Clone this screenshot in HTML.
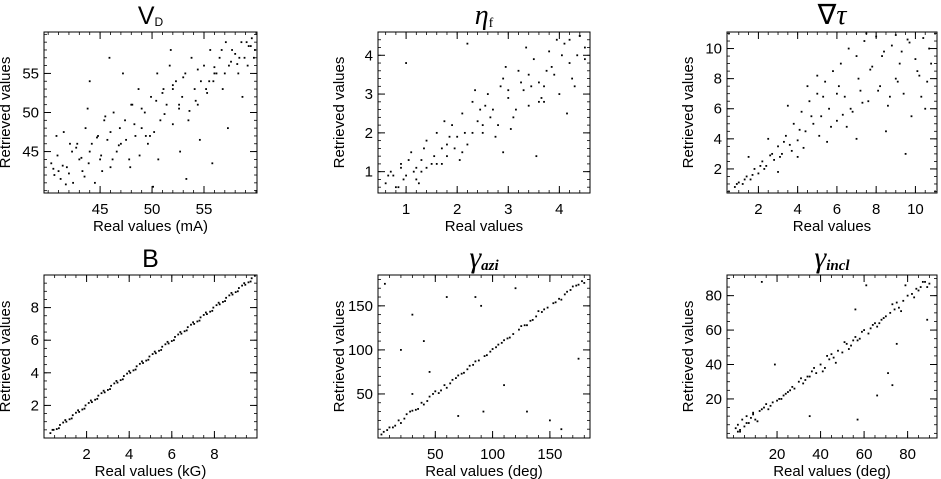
<!DOCTYPE html>
<html><head><meta charset="utf-8"><style>
html,body{margin:0;padding:0;background:#fff}
svg{display:block;font-family:"Liberation Sans",sans-serif}
</style></head><body>
<svg id="fig" width="941" height="479" viewBox="0 0 941 479"></svg>
<script>
// ---- data ----
const vdX=[40.3,40.6,40.9,41.2,41.5,41.8,42.1,42.4,42.7,43,43.3,43.6,43.9,44.2,44.5,44.8,45.1,45.4,45.7,46,46.3,46.6,46.9,47.2,47.5,47.8,48.1,48.4,48.7,49,49.3,49.6,49.9,50.2,50.5,50.8,51.1,51.4,51.7,52,52.3,52.6,52.9,53.2,53.5,53.8,54.1,54.4,54.7,55,55.3,55.6,55.9,56.2,56.5,56.8,57.1,57.4,57.7,58,58.3,58.6,58.9,59.2,59.5,59.8,41,42.3,43.8,45.5,46.2,47.9,49.4,50.6,51.8,52.7,53.3,54.6,55.8,57.3,58.7,59.6,44,48,52,56,40.8,45.9,50.1,54.2,40.5,41.4,42,42.8,43.2,44,44.7,45.2,46,46.8,47.4,48.3,49,49.8,50.4,51.2,52,52.6,53.6,54.4,55.2,56,56.7,57.6,58.4,59.1,59.9,41.7,43.5,45,47,48.8,51,53,55.5,57,58.2,59.3];
const vdY=[43.5,42,44.5,41.5,47.5,43,46,41,45.5,44,42.5,48,43.5,46,41,47,44.5,49,46.5,43,50,45,48,55,46.5,44,51,47,53,48,50,46,52,47.5,55,49,53,51,56,48.5,54,50.5,52,55,49,57,53,51,54,56,52.5,58,54,55,57,53,59,56,58,57.5,55,59,57,56,58.5,57,42.5,45,50.5,49.5,44,43,47,44,58,45,41.5,46.5,43.5,48,52,59.5,54,51,53,55,47,57,40.5,51.5,42.8,43.2,42.2,46,44.2,45,46.8,42.5,47.5,45.8,49,48.5,50.5,47,51.5,49.8,53.5,51,50.2,55.5,53,55.8,58,56.5,57,59,58,40.8,41.8,44,46,44.5,52.5,54.5,54,55,56.2,58.5];
const etX=[0.6,0.7,0.8,0.9,1.0,1.1,1.2,1.3,1.4,1.5,1.6,1.7,1.8,1.9,2.0,2.1,2.2,2.3,2.4,2.5,2.6,2.7,2.8,2.9,3.0,3.1,3.2,3.3,3.4,3.5,3.6,3.7,3.8,3.9,4.0,4.1,4.2,4.3,4.4,4.5,0.75,0.95,1.15,1.35,1.55,1.75,1.95,2.15,2.35,2.55,2.75,2.95,3.15,3.35,3.55,3.75,3.95,4.15,4.35,1.0,1.6,2.2,2.9,3.6,4.4,1.25,2.05,3.45,0.65,0.85,1.05,1.2,1.4,1.7,1.85,2.1,2.3,2.45,2.65,2.85,3.05,3.25,3.4,3.65,3.85,4.05,4.25,4.5,0.9,1.3,1.8,2.5,3.0,3.7,4.2];
const etY=[0.7,1.0,0.6,1.2,0.9,1.5,1.1,1.3,1.8,1.2,2.0,1.6,1.4,2.2,1.9,2.5,1.7,2.8,2.3,2.0,3.0,2.6,2.2,3.4,2.9,2.4,3.6,3.1,2.7,3.9,3.3,2.8,4.1,3.5,3.0,4.3,3.8,3.2,4.5,3.9,0.9,0.8,1.0,1.6,1.4,2.3,1.6,2.0,3.1,2.7,1.9,3.7,2.6,4.2,1.4,3.6,4.4,2.5,4.0,3.8,1.2,4.3,1.5,2.8,4.5,0.7,1.3,3.2,0.9,0.6,1.3,0.8,1.1,1.2,1.9,1.5,2.0,2.6,2.4,3.2,2.1,3.3,3.5,2.9,3.7,4.0,3.4,4.2,1.1,1.0,1.7,2.2,3.1,3.2,4.4];
const gtX=[0.8,1.0,1.2,1.4,1.6,1.8,2.0,2.2,2.4,2.6,2.8,3.0,3.2,3.4,3.6,3.8,4.0,4.2,4.4,4.6,4.8,5.0,5.2,5.4,5.6,5.8,6.0,6.2,6.4,6.6,6.8,7.0,7.2,7.4,7.6,7.8,8.0,8.2,8.4,8.6,8.8,9.0,9.2,9.4,9.6,9.8,10.0,10.2,10.4,10.6,10.8,1.5,2.5,3.5,4.5,5.5,6.5,7.5,8.5,9.5,10.5,3.0,5.0,7.0,9.0,4.0,6.0,0.9,1.3,1.7,2.1,2.3,2.7,3.1,3.3,3.7,4.1,4.3,4.7,5.1,5.3,5.7,6.1,6.3,6.7,7.1,7.3,7.7,8.1,8.3,8.7,9.1,9.3,9.7,10.1,10.3,10.7];
const gtY=[0.8,1.1,1.0,1.5,1.3,2.0,1.7,2.5,2.2,2.9,2.6,3.5,3.0,4.2,3.6,5.0,3.9,5.8,4.5,6.5,5.0,7.0,5.5,7.8,6.0,8.5,5.2,9.0,6.8,10.0,5.8,9.5,7.2,10.5,6.5,8.8,10.8,7.5,9.8,6.2,10.2,8.0,9.0,7.0,10.6,5.5,9.3,8.2,10.7,7.8,9.0,2.8,4.0,6.2,7.5,3.8,4.8,11.0,4.5,3.0,6.0,1.8,8.2,4.0,10.9,2.8,7.0,1.0,1.3,1.6,2.2,2.0,3.0,2.8,3.8,3.2,4.6,3.4,5.5,4.2,6.8,4.8,7.5,5.6,6.0,8.0,6.4,8.6,7.2,9.5,6.8,7.8,9.8,10.4,8.5,6.8,10.0];
const bX=[0.3,0.6,0.9,1.2,1.5,1.8,2.1,2.4,2.7,3.0,3.3,3.6,3.9,4.2,4.5,4.8,5.1,5.4,5.7,6.0,6.3,6.6,6.9,7.2,7.5,7.8,8.1,8.4,8.7,9.0,9.3,9.6,9.9,0.45,0.75,1.05,1.35,1.65,1.95,2.25,2.55,2.85,3.15,3.45,3.75,4.05,4.35,4.65,4.95,5.25,5.55,5.85,6.15,6.45,6.75,7.05,7.35,7.65,7.95,8.25,8.55,8.85,9.15,9.45,9.75,0.4,0.7,1.0,1.3,1.6,1.9,2.2,2.5,2.8,3.1,3.4,3.7,4.0,4.3,4.6,4.9,5.2,5.5,5.8,6.1,6.4,6.7,7.0,7.3,7.6,7.9,8.2,8.5,8.8,9.1,9.4,9.7];
const bY=[0.3,0.55,0.95,1.15,1.55,1.75,2.15,2.35,2.75,2.95,3.35,3.55,3.95,4.15,4.55,4.75,5.15,5.35,5.75,5.95,6.35,6.55,6.95,7.15,7.55,7.75,8.15,8.35,8.75,8.95,9.35,9.55,9.95,0.5,0.8,1.0,1.4,1.6,2.0,2.2,2.6,2.8,3.2,3.4,3.8,4.0,4.4,4.6,5.0,5.2,5.6,5.8,6.2,6.4,6.8,7.0,7.4,7.6,8.0,8.2,8.6,8.8,9.2,9.4,9.8,0.5,0.6,1.1,1.2,1.7,1.8,2.3,2.4,2.9,3.0,3.5,3.6,4.1,4.2,4.7,4.8,5.3,5.4,5.9,6.0,6.5,6.6,7.1,7.2,7.7,7.8,8.3,8.4,8.9,9.0,9.5,9.6];
const azX=[3,8,13,18,23,28,33,38,43,48,53,58,63,68,73,78,83,88,93,98,103,108,113,118,123,128,133,138,143,148,153,158,163,168,173,178,5,15,25,35,45,55,65,75,85,95,105,115,125,135,145,155,165,175,6,20,30,60,90,92,110,160,120,150,40,70,175,10,20,30,40,50,60,70,80,100,110,130,140,160,170,180,45,85,130,30];
const azY=[4,9,12,20,22,30,32,40,42,50,51,60,62,68,73,78,83,88,93,98,103,108,113,118,123,128,133,138,143,148,153,158,163,168,173,178,7,14,27,33,47,54,66,74,87,94,106,114,127,134,146,154,166,174,175,100,140,160,150,30,60,10,170,20,110,25,90,12,17,31,38,53,57,71,82,101,111,128,144,157,172,176,75,160,30,50];
const inX=[1,2,3,4,5,6,7,8,9,10,12,14,16,18,20,22,24,26,28,30,32,34,36,38,40,42,44,46,48,50,52,54,56,58,60,62,64,66,68,70,72,74,76,78,80,82,84,86,88,90,3,11,15,25,35,45,55,65,75,85,13,19,56,61,66,71,73,75,35,57,89,2,6,9,13,17,21,23,27,31,33,37,41,43,47,51,53,57,59,63,67,69,73,77,79,83,87,89];
const inY=[3,5,2,8,4,10,6,9,12,8,13,15,14,18,19,20,23,25,26,30,29,33,36,35,40,38,43,44,48,47,52,51,56,55,60,58,63,62,66,68,70,72,73,77,80,81,84,85,88,87,1,7,17,24,33,46,54,64,76,83,88,40,72,86,22,35,28,52,10,8,66,1,6,11,14,16,20,22,27,32,31,38,36,45,41,53,49,54,59,61,64,67,75,71,86,79,88,85];

// ---- layout ----
const panels=[
 {x:vdX,y:vdY,L:44,R:257,T:32,B:193,xmin:39.6,xmax:60.1,ymin:39.7,ymax:60.3,xt:[45,50,55],yt:[45,50,55],xmin2:1,ymin2:1,title:'vd',xl:'Real values (mA)'},
 {x:etX,y:etY,L:378,R:590,T:32,B:193,xmin:0.45,xmax:4.6,ymin:0.45,ymax:4.6,xt:[1,2,3,4],yt:[1,2,3,4],xmin2:0.2,ymin2:0.2,title:'eta',xl:'Real values'},
 {x:gtX,y:gtY,L:727,R:937,T:32,B:193,xmin:0.4,xmax:11.1,ymin:0.4,ymax:11.1,xt:[2,4,6,8,10],yt:[2,4,6,8,10],xmin2:0.5,ymin2:0.5,title:'grad',xl:'Real values'},
 {x:bX,y:bY,L:44,R:257,T:275,B:438,xmin:0,xmax:10,ymin:0,ymax:10,xt:[2,4,6,8],yt:[2,4,6,8],xmin2:0.5,ymin2:0.5,title:'B',xl:'Real values (kG)'},
 {x:azX,y:azY,L:378,R:590,T:275,B:438,xmin:0,xmax:185,ymin:0,ymax:185,xt:[50,100,150],yt:[50,100,150],xmin2:10,ymin2:10,title:'azi',xl:'Real values (deg)'},
 {x:inX,y:inY,L:727,R:937,T:275,B:438,xmin:-3,xmax:93.5,ymin:-2.7,ymax:92,xt:[20,40,60,80],yt:[20,40,60,80],xmin2:5,ymin2:5,title:'incl',xl:'Real values (deg)'}
];
const NS='http://www.w3.org/2000/svg';
const svg=document.getElementById('fig');
function mk(tag,attrs,parent){const e=document.createElementNS(NS,tag);for(const k in attrs)e.setAttribute(k,attrs[k]);(parent||svg).appendChild(e);return e;}
panels.forEach((p,i)=>{
 const g=mk('g',{});
 
 
 const sx=v=>p.L+(v-p.xmin)/(p.xmax-p.xmin)*(p.R-p.L);
 const sy=v=>p.B-(v-p.ymin)/(p.ymax-p.ymin)*(p.B-p.T);
 const fr=mk('rect',{x:p.L,y:p.T,width:p.R-p.L,height:p.B-p.T,fill:'none',stroke:'#000','stroke-width':1},g);
 
 
 for(let v=Math.ceil(p.xmin/p.xmin2)*p.xmin2;v<=p.xmax;v+=p.xmin2){const X=sx(v);
  mk('line',{x1:X,x2:X,y1:p.B,y2:p.B-3,stroke:'#000','stroke-width':0.8},g);
  mk('line',{x1:X,x2:X,y1:p.T,y2:p.T+3,stroke:'#000','stroke-width':0.8},g);}
 for(let v=Math.ceil(p.ymin/p.ymin2)*p.ymin2;v<=p.ymax;v+=p.ymin2){const Y=sy(v);
  mk('line',{x1:p.L,x2:p.L+3,y1:Y,y2:Y,stroke:'#000','stroke-width':0.8},g);
  mk('line',{x1:p.R,x2:p.R-3,y1:Y,y2:Y,stroke:'#000','stroke-width':0.8},g);}
 p.xt.forEach(v=>{const X=sx(v);
  mk('line',{x1:X,x2:X,y1:p.B,y2:p.B-7,stroke:'#000'},g);
  mk('line',{x1:X,x2:X,y1:p.T,y2:p.T+7,stroke:'#000'},g);
  const t=mk('text',{x:X,y:p.B+21,'text-anchor':'middle','font-size':15},g);t.textContent=v;
  
  });
 p.yt.forEach(v=>{const Y=sy(v);
  mk('line',{x1:p.L,x2:p.L+7,y1:Y,y2:Y,stroke:'#000'},g);
  mk('line',{x1:p.R,x2:p.R-7,y1:Y,y2:Y,stroke:'#000'},g);
  const t=mk('text',{x:p.L-5,y:Y+5,'text-anchor':'end','font-size':15},g);t.textContent=v;
  
  });
 const xl=mk('text',{x:(p.L+p.R)/2,y:p.B+38,'text-anchor':'middle','font-size':15},g);xl.textContent=p.xl;
 
 
 const yx=p.L-34, yc=(p.T+p.B)/2;
 const yl=mk('text',{x:yx,y:yc,'text-anchor':'middle','font-size':15,transform:`rotate(-90 ${yx} ${yc})`},g);yl.textContent='Retrieved values';
 
 
 for(let k=0;k<p.x.length;k++){
  const c=mk('rect',{x:sx(p.x[k])-0.9,y:sy(p.y[k])-0.9,width:1.8,height:1.8,fill:'#000'},g);
  
  
 }
 const cx=(p.L+p.R)/2, ty=p.T-8;
 const tt=mk('text',{x:cx,y:ty,'text-anchor':'middle','font-size':25},g);
 
 
 if(p.title==='vd'){tt.innerHTML='V<tspan font-size="12" dy="2">D</tspan>';}
 else if(p.title==='eta'){tt.setAttribute('font-family','Liberation Serif');tt.setAttribute('font-style','italic');tt.setAttribute('font-size','28');tt.innerHTML='η<tspan font-size="14" dy="3" font-style="normal">f</tspan>';}
 else if(p.title==='grad'){tt.setAttribute('font-family','Liberation Serif');tt.setAttribute('font-size','28');tt.innerHTML='∇<tspan font-style="italic">τ</tspan>';}
 else if(p.title==='B'){tt.textContent='B';}
 else if(p.title==='azi'){tt.setAttribute('font-family','Liberation Serif');tt.setAttribute('font-style','italic');tt.setAttribute('font-size','30');tt.innerHTML='γ<tspan font-size="15" font-weight="bold" dy="3">azi</tspan>';}
 else {tt.setAttribute('font-family','Liberation Serif');tt.setAttribute('font-style','italic');tt.setAttribute('font-size','30');tt.innerHTML='γ<tspan font-size="15" font-weight="bold" dy="3">incl</tspan>';}
});
</script>
</body></html>
